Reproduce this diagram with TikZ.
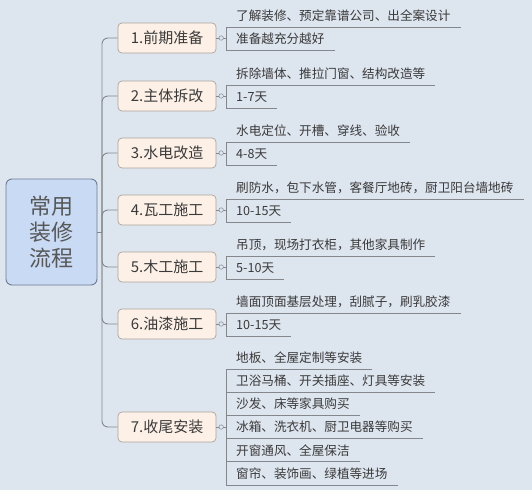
\documentclass[tikz,border=0pt]{standalone}
\usepackage{fontspec}
\newfontfamily\cjk{Noto Sans CJK SC}
\definecolor{bgc}{RGB}{221,229,238}
\definecolor{rootfill}{RGB}{200,218,244}
\definecolor{rootedge}{RGB}{110,124,146}
\definecolor{stepfill}{RGB}{253,241,231}
\definecolor{stepedge}{RGB}{172,164,156}
\definecolor{linec}{RGB}{132,136,140}
\definecolor{inkc}{RGB}{58,58,58}
\tikzset{
  rootbox/.style={draw=rootedge,line width=0.9pt,fill=rootfill,rounded corners=6pt,
    minimum width=91pt,minimum height=106pt,align=center,text=inkc!85,
    font=\cjk\fontsize{22}{26}\selectfont},
  stepbox/.style={draw=stepedge,line width=0.7pt,fill=stepfill,rounded corners=4pt,
    minimum width=98pt,minimum height=30pt,inner sep=0pt,text=inkc,
    font=\cjk\fontsize{15}{18}\selectfont},
  leaf/.style={anchor=south west,inner xsep=10pt,inner ysep=4pt,text height=9pt,
    text depth=2.5pt,text=inkc,font=\cjk\fontsize{12.6}{15}\selectfont},
  stem/.style={draw=linec,line width=0.9pt,rounded corners=6pt},
  twig/.style={draw=linec,line width=0.7pt},
  knob/.style={circle,draw=linec,line width=0.5pt,fill=bgc,inner sep=0pt,minimum size=4.5pt}
}
\begin{document}
\begin{tikzpicture}[x=1pt,y=-1pt]
   \useasboundingbox [fill=bgc] (0,0) rectangle (532,490);
   % root and its seven steps
   \node [rootbox] (root) at (51.5,232) {常用\\装修\\流程};
   \coordinate (hub) at (102,232);
   \node [stepbox] (s1) at (167,38) {1.前期准备};
   \node [stepbox] (s2) at (167,96) {2.主体拆改};
   \node [stepbox] (s3) at (167,153) {3.水电改造};
   \node [stepbox] (s4) at (167,210) {4.瓦工施工};
   \node [stepbox] (s5) at (167,267) {5.木工施工};
   \node [stepbox] (s6) at (167,324) {6.油漆施工};
   \node [stepbox] (s7) at (167,427) {7.收尾安装};
   \draw [stem] (root.east) -- (hub);
   \draw [stem] (hub) |- (s1.west);
   \draw [stem] (hub) |- (s2.west);
   \draw [stem] (hub) |- (s3.west);
   \draw [stem] (hub) |- (s4.west);
   \draw [stem] (hub) |- (s5.west);
   \draw [stem] (hub) |- (s6.west);
   \draw [stem] (hub) |- (s7.west);
   % leaves
   \node [leaf] (s1a) at (226,27) {了解装修、预定靠谱公司、出全案设计};
   \node [leaf] (s1b) at (226,50) {准备越充分越好};
   \node [leaf] (s2a) at (226,85) {拆除墙体、推拉门窗、结构改造等};
   \node [leaf] (s2b) at (226,108) {1-7天};
   \node [leaf] (s3a) at (226,142) {水电定位、开槽、穿线、验收};
   \node [leaf] (s3b) at (226,165) {4-8天};
   \node [leaf] (s4a) at (226,199) {刷防水，包下水管，客餐厅地砖，厨卫阳台墙地砖};
   \node [leaf] (s4b) at (226,222) {10-15天};
   \node [leaf] (s5a) at (226,256) {吊顶，现场打衣柜，其他家具制作};
   \node [leaf] (s5b) at (226,279) {5-10天};
   \node [leaf] (s6a) at (226,313) {墙面顶面基层处理，刮腻子，刷乳胶漆};
   \node [leaf] (s6b) at (226,336) {10-15天};
   \node [leaf] (s7a) at (226,369) {地板、全屋定制等安装};
   \node [leaf] (s7b) at (226,392.2) {卫浴马桶、开关插座、灯具等安装};
   \node [leaf] (s7c) at (226,415.4) {沙发、床等家具购买};
   \node [leaf] (s7d) at (226,438.6) {冰箱、洗衣机、厨卫电器等购买};
   \node [leaf] (s7e) at (226,461.8) {开窗通风、全屋保洁};
   \node [leaf] (s7f) at (226,485) {窗帘、装饰画、绿植等进场};
   \draw [twig] (s1a.south east) -- (s1a.south west) -- (s1b.south west) -- (s1b.south east);
   \draw [twig] (s2a.south east) -- (s2a.south west) -- (s2b.south west) -- (s2b.south east);
   \draw [twig] (s3a.south east) -- (s3a.south west) -- (s3b.south west) -- (s3b.south east);
   \draw [twig] (s4a.south east) -- (s4a.south west) -- (s4b.south west) -- (s4b.south east);
   \draw [twig] (s5a.south east) -- (s5a.south west) -- (s5b.south west) -- (s5b.south east);
   \draw [twig] (s6a.south east) -- (s6a.south west) -- (s6b.south west) -- (s6b.south east);
   \draw [twig] (s7a.south east) -- (s7a.south west) -- (s7f.south west) -- (s7f.south east);
   \draw [twig] (s7b.south west) -- (s7b.south east);
   \draw [twig] (s7c.south west) -- (s7c.south east);
   \draw [twig] (s7d.south west) -- (s7d.south east);
   \draw [twig] (s7e.south west) -- (s7e.south east);
   \draw [twig] (s1.east) -- node [knob] {} (s1.east -| s1a.west);
   \draw [twig] (s2.east) -- node [knob] {} (s2.east -| s2a.west);
   \draw [twig] (s3.east) -- node [knob] {} (s3.east -| s3a.west);
   \draw [twig] (s4.east) -- node [knob] {} (s4.east -| s4a.west);
   \draw [twig] (s5.east) -- node [knob] {} (s5.east -| s5a.west);
   \draw [twig] (s6.east) -- node [knob] {} (s6.east -| s6a.west);
   \draw [twig] (s7.east) -- node [knob] {} (s7.east -| s7a.west);
\end{tikzpicture}
\end{document}
